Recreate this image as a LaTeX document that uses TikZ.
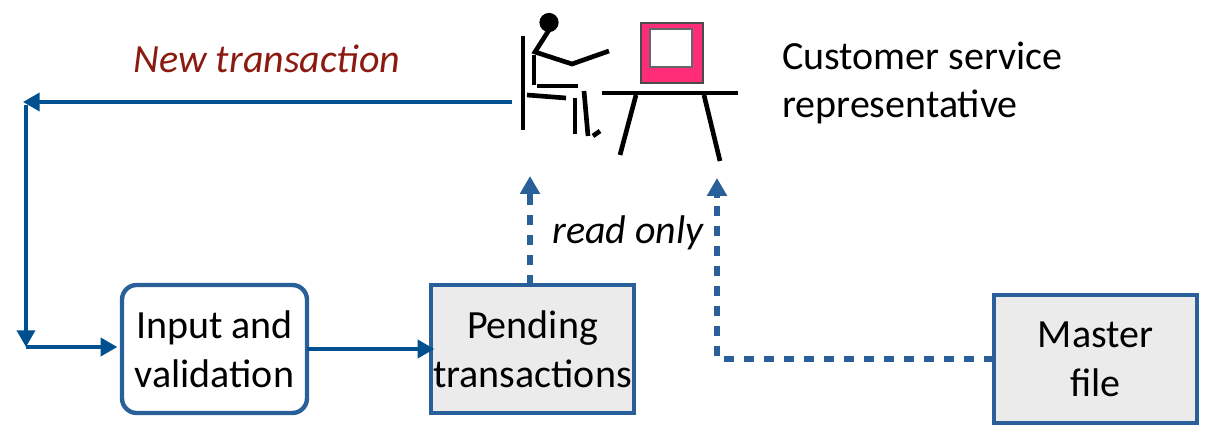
\documentclass[tikz,border=0pt]{standalone}
\usepackage{fontspec}
\setmainfont{Carlito}
\usetikzlibrary{%
  calc,%
  arrows.meta%
}
\definecolor{flowblue}{HTML}{00508F}
\definecolor{boxblue}{HTML}{2A6099}
\definecolor{boxgrey}{HTML}{EBEBEB}
\definecolor{screenpink}{HTML}{FF2D78}
\definecolor{labelred}{HTML}{8B1A10}
\tikzset{
  textstyle/.style={font=\fontsize{30}{36.5}\selectfont,align=center,inner sep=0pt},
  roundbox/.style={textstyle,draw=boxblue,line width=3.3pt,fill=white,rounded corners=11pt,minimum width=138.75pt,minimum height=96pt,outer sep=0pt},
  greybox/.style={textstyle,draw=boxblue,line width=3.3pt,fill=boxgrey,minimum width=152.25pt,minimum height=96pt,outer sep=0pt},
  flow/.style={draw=flowblue,line width=2.8pt,-{Triangle[length=12.5pt,width=13.5pt]}},
  readflow/.style={draw=boxblue,line width=3.8pt,dash pattern=on 7.5pt off 7.5pt},
  readtip/.style={draw=boxblue,line width=3.8pt,-{Triangle[length=13.5pt,width=14.5pt]}},
  stick/.style={line width=3.5pt,black}
}

\begin{document}
\begin{tikzpicture}[x=0.75pt,y=-0.75pt]
\useasboundingbox (0,0) rectangle (1225,438);

\node[roundbox] (input) at (214.5,349) {Input and\\validation};
\node[greybox] (pending) at (532.5,349) {Pending\\transactions};
\node[greybox] (master) at (1095.5,359) {Master\\file};
%
\node[textstyle,font=\fontsize{30}{36.5}\selectfont\itshape,text=labelred] (newlabel) at (267,59) {New transaction};
\node[textstyle,anchor=west,align=left] (replabel) at (782,83) {Customer service\\representative};
\node[textstyle,font=\fontsize{30}{36.5}\selectfont\itshape] (readlabel) at (628,233) {read only};
%
\coordinate (repleft) at (512,102);
\coordinate (topcorner) at (23,102);
\coordinate (upper) at (26,105);
\coordinate (lower) at (26,347);
\coordinate (pendingtip) at (530,176);
\coordinate (mastertip) at (717,178);
\coordinate (pendingdash) at (530,196);
\coordinate (masterdash) at (717,198);

\draw[flow] (repleft) -- (topcorner);
\draw[flow] (upper) -- (lower);
\draw[flow,shorten >=3.5pt] (lower) -- (lower -| input.west);
\draw[flow,shorten >=-2.5pt] (input) -- (pending);
%
\draw[readflow] (pending.north -| pendingdash) -- (pendingdash);
\draw[readtip] (pendingdash) -- (pendingtip);
\draw[readflow] (master.west) -| (masterdash);
\draw[readtip] (masterdash) -- (mastertip);

% customer service representative at the desk
\fill (549,22.5) circle (7.2pt);
\draw[stick] (549,30) -- (535,52) -- (572,64) -- (609,51);
\draw[stick] (534,55) -- (534,85);
\draw[stick] (537,86) -- (578,86);
\draw[stick] (523,36) -- (523,130);
\draw[stick] (527,95) -- (566,98);
\draw[stick] (575,98) -- (575,134);
\draw[stick] (584,91) -- (588,136);
\draw[stick] (593,136) -- (600,131);
%
\draw[fill=screenpink,draw=black!70,line width=0.8pt] (641,23) rectangle (703,83);
\draw[fill=white,draw=black!60,line width=1pt] (650,29) rectangle (692,67);
\draw[stick] (602,93) -- (738,93);
\draw[stick] (636,95) -- (620,155);
\draw[stick] (704,95) -- (720,161);
\end{tikzpicture}
\end{document}
